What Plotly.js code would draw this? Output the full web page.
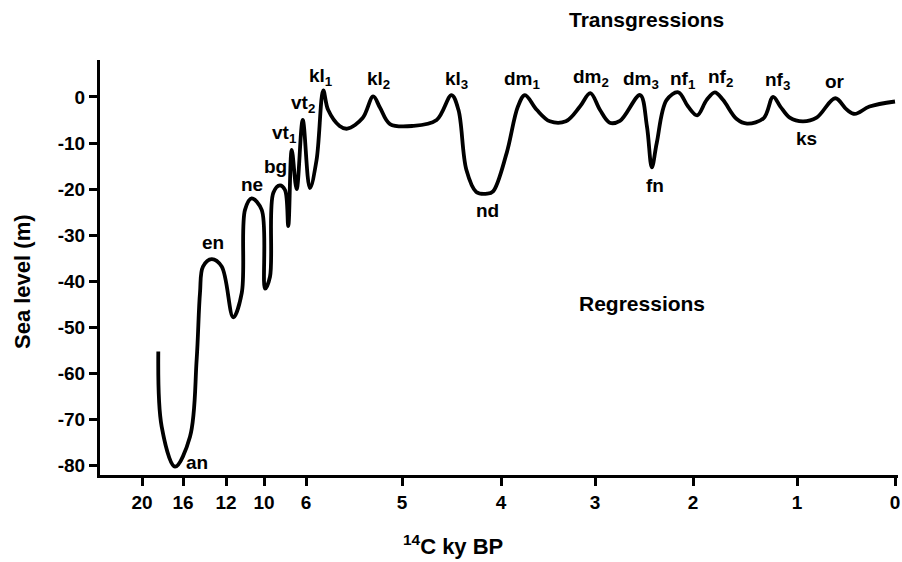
<!DOCTYPE html>
<html>
<head>
<meta charset="utf-8">
<script src="https://cdn.plot.ly/plotly-3.0.1.min.js"></script>
<style>html,body{margin:0;padding:0;background:#fff}#chart{width:902px;height:562px}</style>
</head>
<body>
<div id="chart"></div>
<script>
// ---- Data (ages in 14C ky BP, sea level in m) ----
const ageKy = [18.41, 18.08, 16.78, 15.35, 14.73, 14.42, 14.14, 13.33, 12.40, 11.62,
  11.17, 11.00, 10.65, 10.12, 9.90, 9.43, 9.11, 8.48, 8.00, 7.69,
  7.36, 6.89, 6.31, 5.96, 5.89, 5.82, 5.77, 5.65, 5.57, 5.41,
  5.30, 5.23, 5.125, 4.89, 4.65, 4.50, 4.43, 4.35, 4.25, 4.14,
  4.08, 3.94, 3.82, 3.745, 3.62, 3.48, 3.31, 3.16, 3.05, 2.95,
  2.85, 2.745, 2.54, 2.47, 2.42, 2.37, 2.27, 2.15, 2.05, 1.96,
  1.87, 1.79, 1.71, 1.58, 1.48, 1.32, 1.23, 1.16, 1.07, 0.94,
  0.80, 0.61, 0.49, 0.41, 0.26, 0.00];
const seaLevel = [-55.2, -71.5, -80.2, -73.7, -57.0, -42.5, -36.8, -35.2, -36.8, -47.8,
  -42.5, -24.5, -22.0, -24.5, -41.6, -39.0, -20.8, -19.2, -20.2, -28.0,
  -11.5, -20.0, -5.0, -19.8, -13.7, 1.4, -2.8, -6.3, -6.9, -4.6,
  0.1, -2.3, -5.9, -6.3, -5.0, 0.4, -2.8, -15.8, -20.6, -21.0,
  -20.5, -12.2, -2.1, 0.4, -2.8, -5.3, -5.3, -2.1, 0.8, -2.8,
  -5.6, -5.2, 0.4, -6.4, -15.3, -10.0, -0.7, 1.0, -2.1, -4.0,
  -0.7, 1.0, -0.7, -4.8, -5.8, -4.6, 0.0, -2.1, -4.5, -5.3,
  -4.5, -0.3, -2.8, -3.7, -2.1, -1.0];

// x-axis tick ages and labels (broken, non-linear axis)
const tickAges = [20, 16, 12, 10, 6, 5, 4, 3, 2, 1, 0];
const tickLabels = ['20', '16', '12', '10', '6', '5', '4', '3', '2', '1', '0'];
const yTicks = [0, -10, -20, -30, -40, -50, -60, -70, -80];

// Event labels
const labelText = ['an', 'en', 'ne', 'bg', 'vt<sub>1</sub>', 'vt<sub>2</sub>', 'kl<sub>1</sub>',
  'kl<sub>2</sub>', 'kl<sub>3</sub>', 'nd', 'dm<sub>1</sub>', 'dm<sub>2</sub>', 'dm<sub>3</sub>',
  'fn', 'nf<sub>1</sub>', 'nf<sub>2</sub>', 'nf<sub>3</sub>', 'ks', 'or'];

// ---- Axis scale: relative position of each tick along the broken axis ----
const tickPos = [0, 41, 84, 122, 164, 260, 359, 453, 551, 655, 753];
function ageToU(a) {
  for (let i = 0; i < tickAges.length - 1; i++) {
    const a0 = tickAges[i], a1 = tickAges[i + 1];
    if (a <= a0 && a >= a1) {
      return tickPos[i] + (a0 - a) / (a0 - a1) * (tickPos[i + 1] - tickPos[i]);
    }
  }
  return a > tickAges[0] ? tickPos[0] - (a - tickAges[0]) * 10 : tickPos[tickPos.length - 1];
}

// label placement (pixel centres in the page)
const labelPx = [[197, 462], [213, 243], [252, 184], [275, 166], [284, 134], [303, 104], [321, 77],
  [378, 80], [456, 80], [487, 210], [522, 80], [591, 78], [641, 80],
  [655, 185], [683, 80], [720, 78], [777, 81], [806, 138], [835, 81]];

const W = 902, H = 562, ML = 100, MR = 4, MT = 60, MB = 87;
const PW = W - ML - MR, PH = H - MT - MB;
const px2paper = (x, y) => ({x: (x - ML) / PW, y: (H - MB - y) / PH});

const FONT = 'Liberation Sans, Arial, Helvetica, sans-serif';
const annotations = labelText.map((t, i) => {
  const p = px2paper(labelPx[i][0], labelPx[i][1]);
  return {text: t, x: p.x, y: p.y, xref: 'paper', yref: 'paper', showarrow: false,
    xanchor: 'center', yanchor: 'middle',
    font: {family: FONT, size: 19, color: '#000', weight: 'bold'}};
});
const extra = [
  {t: 'Transgressions', p: [646, 19], s: 21},
  {t: 'Regressions', p: [642, 303], s: 21},
  {t: '<sup>14</sup>C ky BP', p: [453, 545], s: 22},
];
extra.forEach(e => {
  const p = px2paper(e.p[0], e.p[1]);
  annotations.push({text: e.t, x: p.x, y: p.y, xref: 'paper', yref: 'paper', showarrow: false,
    xanchor: 'center', yanchor: 'middle', font: {family: FONT, size: e.s, color: '#000', weight: 'bold'}});
});
const yt = px2paper(22, 282);
annotations.push({text: 'Sea level (m)', x: yt.x, y: yt.y, xref: 'paper', yref: 'paper', showarrow: false,
  textangle: -90, xanchor: 'center', yanchor: 'middle',
  font: {family: FONT, size: 22, color: '#000', weight: 'bold'}});

const trace = {
  x: ageKy.map(ageToU), y: seaLevel, type: 'scatter', mode: 'lines',
  line: {color: '#000', width: 3.8, shape: 'spline', smoothing: 1.0},
  hoverinfo: 'skip', cliponaxis: false
};

const axisCommon = {
  showline: true, linecolor: '#000', linewidth: 3, ticks: 'outside', ticklen: 8,
  tickwidth: 3, tickcolor: '#000', showgrid: false, zeroline: false,
  tickfont: {family: FONT, size: 19, color: '#000', weight: 'bold'}
};

const layout = {
  width: W, height: H, margin: {l: ML, r: MR, t: MT, b: MB},
  paper_bgcolor: '#fff', plot_bgcolor: '#fff', showlegend: false,
  xaxis: Object.assign({}, axisCommon, {
    range: [-42, 756], tickmode: 'array', tickvals: tickAges.map(ageToU), ticktext: tickLabels
  }),
  yaxis: Object.assign({}, axisCommon, {
    range: [-82, 8], tickmode: 'array', tickvals: yTicks, ticktext: yTicks.map(String)
  }),
  annotations: annotations
};

Plotly.newPlot('chart', [trace], layout, {staticPlot: true, displayModeBar: false});
</script>
</body>
</html>
